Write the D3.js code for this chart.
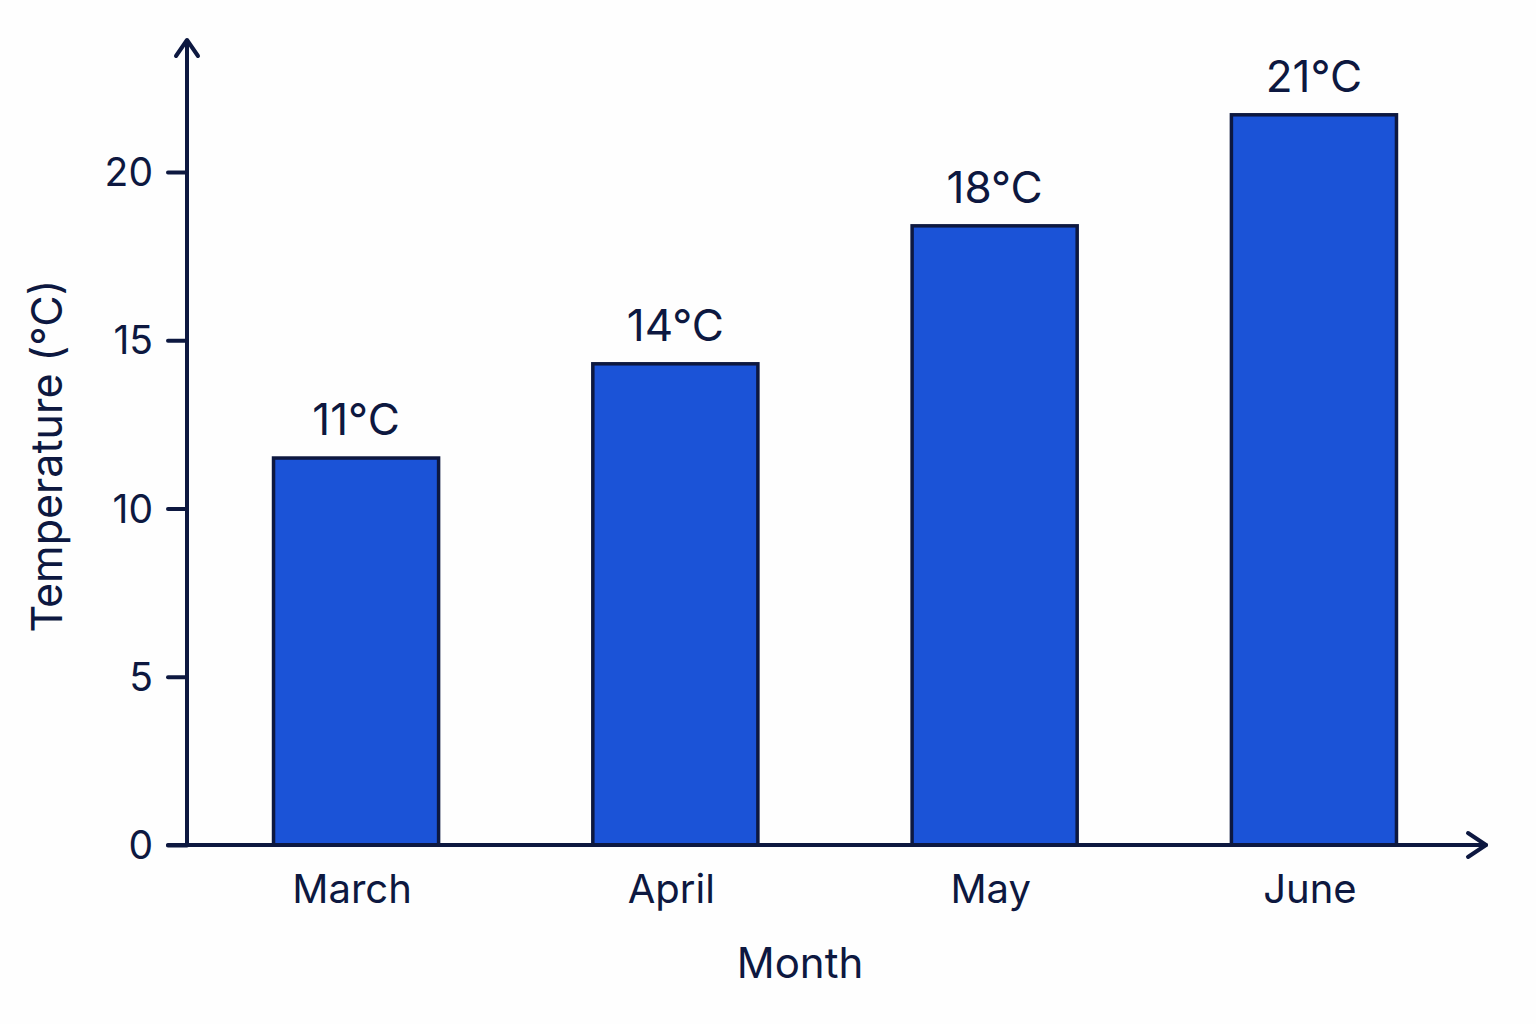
<!DOCTYPE html>
<html>
<head>
<meta charset="utf-8">
<script src="https://cdn.jsdelivr.net/npm/d3@7"></script>
<style>
  body { margin: 0; background: #fefefe; }
  svg text { font-family: Inter, "Noto Sans", sans-serif; fill: #0d1840; }
</style>
</head>
<body>
<div id="chart"></div>
<script>
// data
var months = ["March", "April", "May", "June"];
var temps = [11.5, 14.3, 18.4, 21.7];
var tempLabels = ["11°C", "14°C", "18°C", "21°C"];
var yTicks = [0, 5, 10, 15, 20];

var ink = "#0d1840";
var barFill = "#1b53d7";

var W = 1536, H = 1024;
var x0 = 187, x1 = 1483, yBase = 845, yTop = 172;

var svg = d3.select("#chart")
  .append("svg")
    .attr("width", W)
    .attr("height", H);

// scales
var x = d3.scaleBand()
  .domain(months)
  .range([x0, x1])
  .paddingInner(0.483)
  .paddingOuter(0.271);

var y = d3.scaleLinear()
  .domain([0, 20])
  .range([yBase, yTop]);

// bars
svg.selectAll("rect.bar")
  .data(temps)
  .enter().append("rect")
    .attr("class", "bar")
    .attr("x", function(d, i) { return x(months[i]); })
    .attr("y", function(d) { return y(d); })
    .attr("width", x.bandwidth())
    .attr("height", function(d) { return y(0) - y(d); })
    .attr("fill", barFill)
    .attr("stroke", ink)
    .attr("stroke-width", 3.5);

// value labels
svg.selectAll("text.val")
  .data(tempLabels)
  .enter().append("text")
    .attr("class", "val")
    .attr("x", function(d, i) { return x(months[i]) + x.bandwidth() / 2; })
    .attr("y", function(d, i) { return y(temps[i]) - 23; })
    .attr("text-anchor", "middle")
    .style("font-size", "44px")
    .text(function(d) { return d; });

// Y axis
var yAxis = svg.append("g")
  .attr("transform", "translate(" + x0 + ",0)")
  .call(d3.axisLeft(y).tickValues(yTicks).tickSize(19).tickPadding(15));
yAxis.select(".domain").remove();
yAxis.selectAll(".tick line")
  .attr("stroke", ink)
  .attr("stroke-width", 4)
  .attr("stroke-linecap", "round");
yAxis.selectAll(".tick text")
  .style("font-size", "39px")
  .attr("dy", "0.35em");

svg.append("line")
  .attr("x1", x0).attr("x2", x0)
  .attr("y1", yBase + 2).attr("y2", 40)
  .attr("stroke", ink).attr("stroke-width", 4);
svg.append("path")
  .attr("d", "M" + (x0 - 11) + ",56 L" + x0 + ",40 L" + (x0 + 11) + ",56")
  .attr("fill", "none").attr("stroke", ink).attr("stroke-width", 4)
  .attr("stroke-linecap", "round").attr("stroke-linejoin", "round");

// X axis
var xAxis = svg.append("g")
  .attr("transform", "translate(0," + yBase + ")")
  .call(d3.axisBottom(x).tickSize(0).tickPadding(30));
xAxis.select(".domain").remove();
xAxis.selectAll(".tick text")
  .style("font-size", "40px")
  .attr("dy", "0.71em")
  .attr("dx", -4);

svg.append("line")
  .attr("x1", 168).attr("x2", 1486)
  .attr("y1", yBase).attr("y2", yBase)
  .attr("stroke", ink).attr("stroke-width", 4)
  .attr("stroke-linecap", "round");
svg.append("path")
  .attr("d", "M1468," + (yBase - 12) + " L1486," + yBase + " L1468," + (yBase + 12))
  .attr("fill", "none").attr("stroke", ink).attr("stroke-width", 4)
  .attr("stroke-linecap", "round").attr("stroke-linejoin", "round");

// axis titles
svg.append("text")
  .attr("x", 800)
  .attr("y", 978)
  .attr("text-anchor", "middle")
  .style("font-size", "42px")
  .text("Month");

svg.append("text")
  .attr("transform", "translate(62,456) rotate(-90)")
  .attr("text-anchor", "middle")
  .style("font-size", "43px")
  .text("Temperature (°C)");
</script>
</body>
</html>
